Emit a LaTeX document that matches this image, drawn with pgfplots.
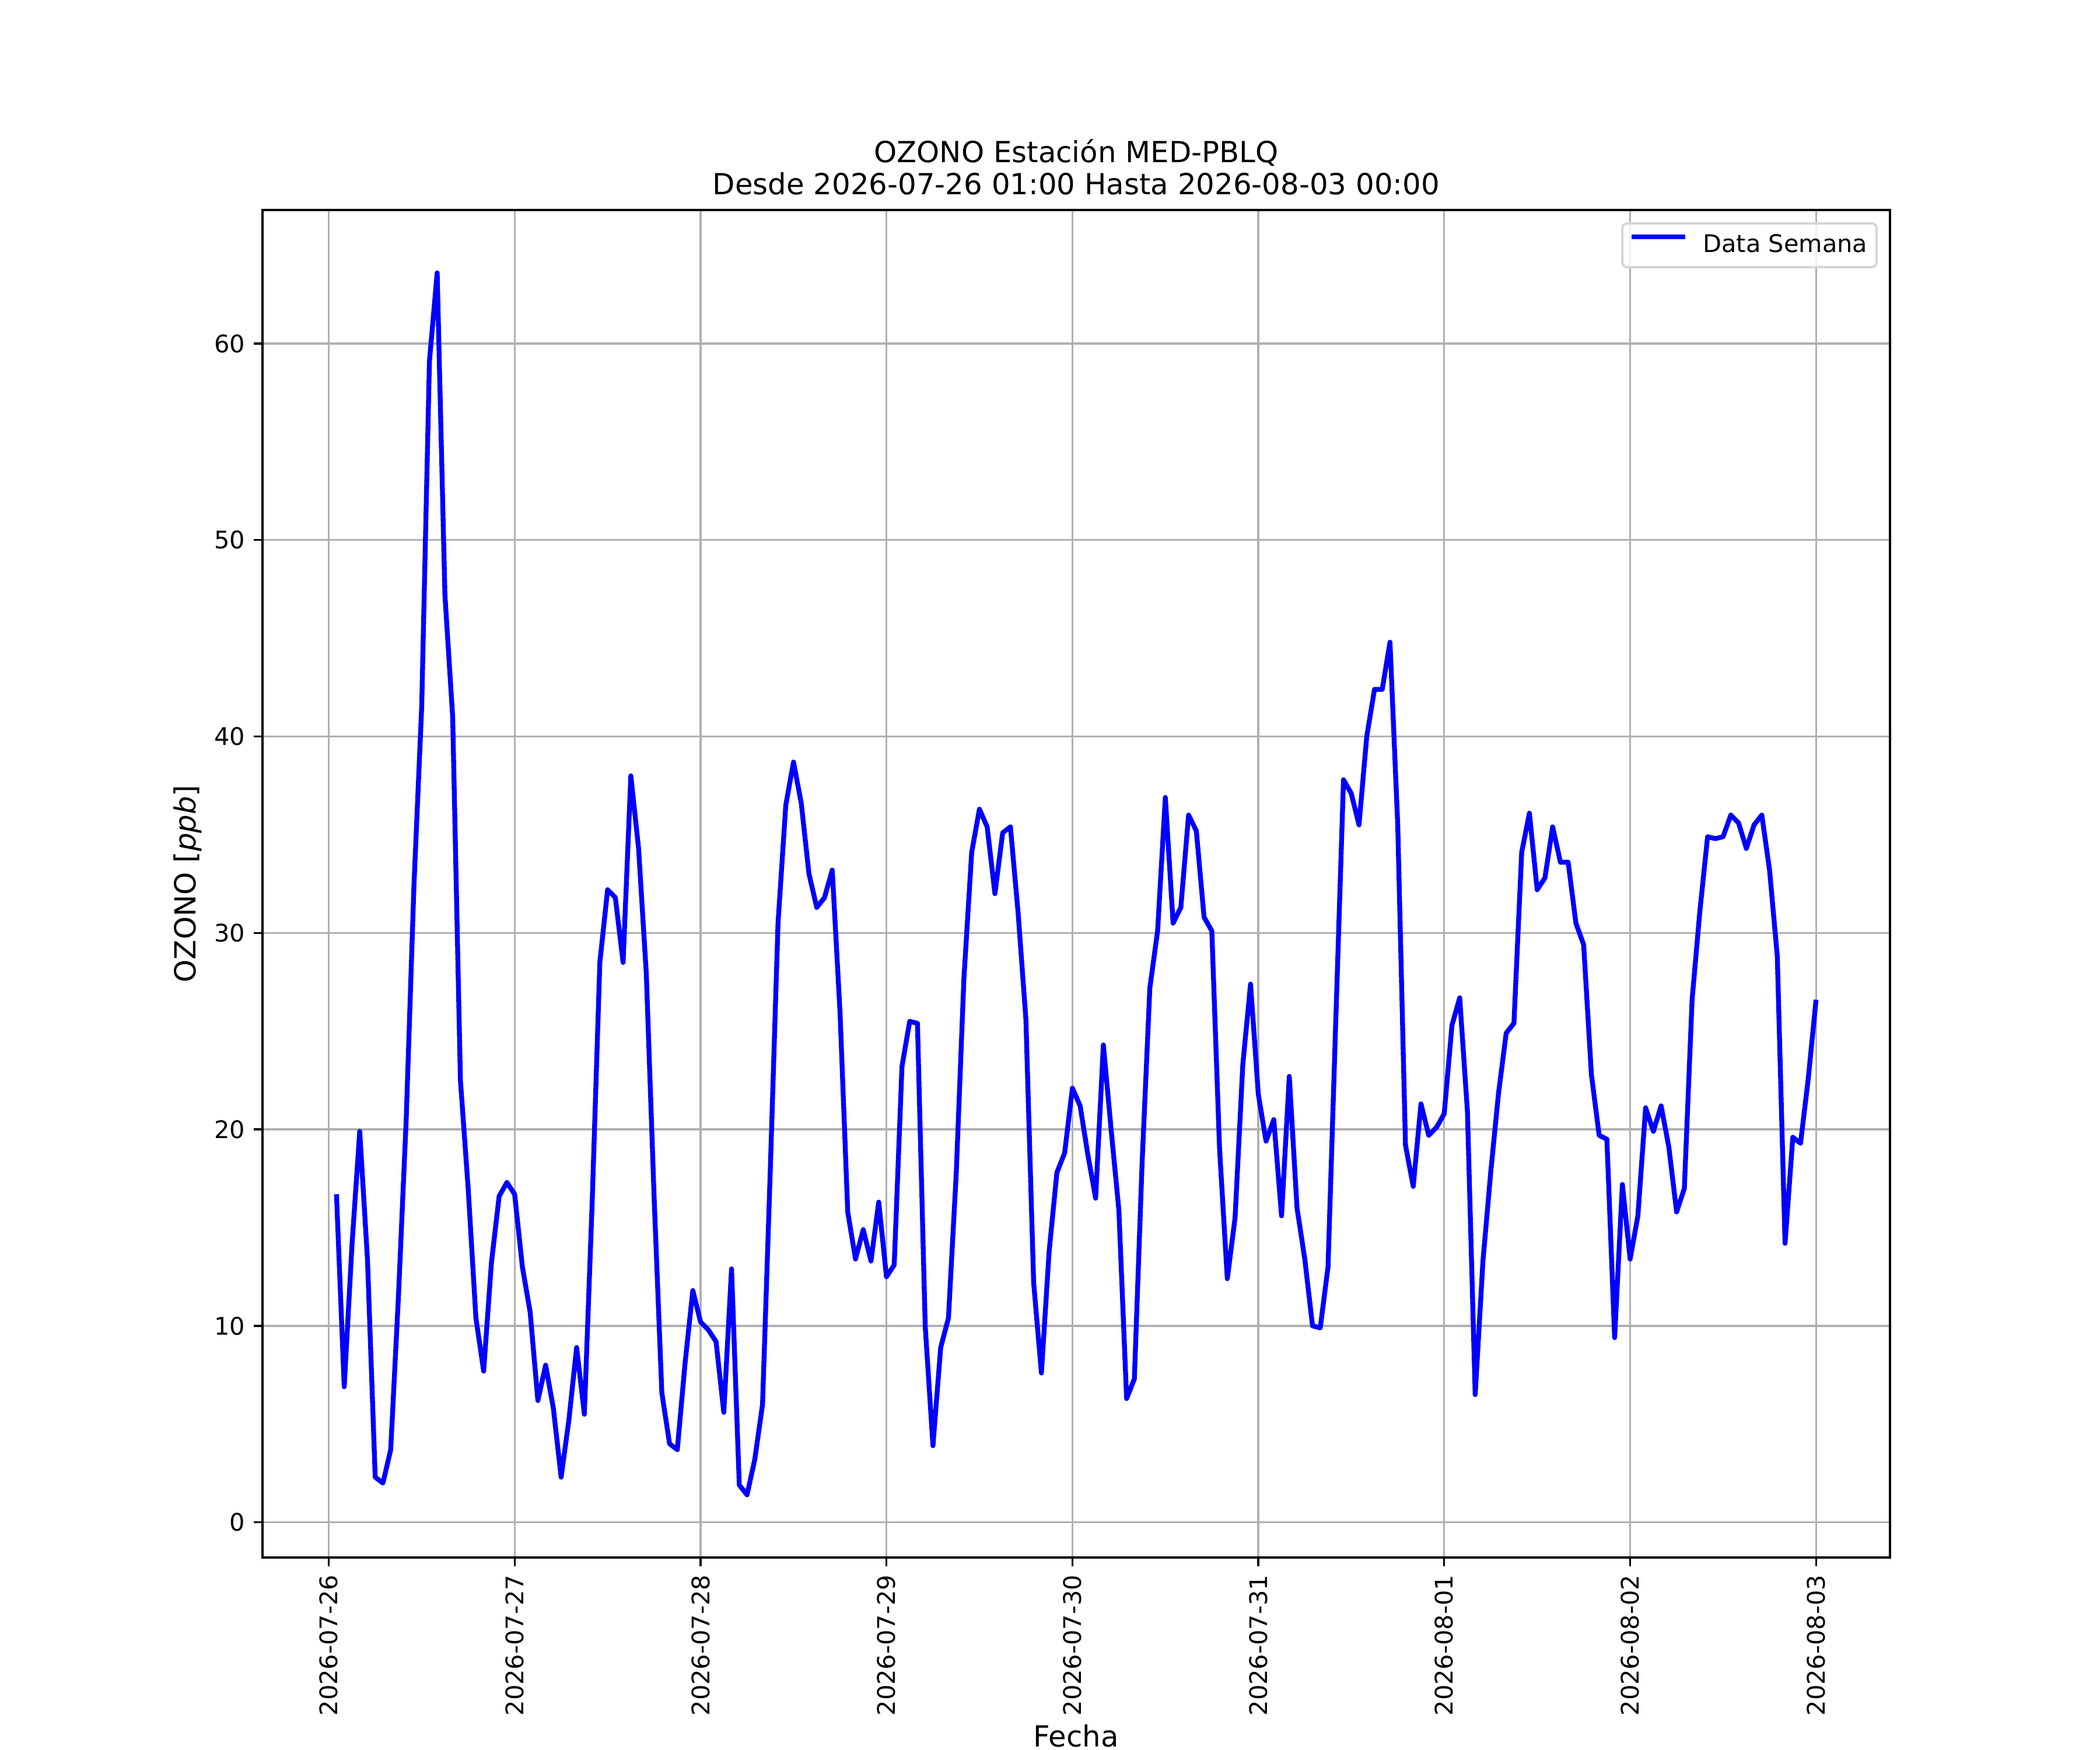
\documentclass[border=0pt]{standalone}
\usepackage{fontspec}
\setmainfont{DejaVu Sans}
\usepackage{pgfplots}
\pgfplotsset{compat=1.18}
\definecolor{gridgray}{HTML}{B0B0B0}
\definecolor{legedge}{HTML}{D6D6D6}
\begin{document}
\begin{tikzpicture}
\path[use as bounding box] (0,0) rectangle (864bp,720bp);
\begin{axis}[
  at={(108bp,79.2bp)}, anchor=south west,
  width=669.6bp, height=554.4bp, scale only axis,
  xmin=-8.55, xmax=201.55, ymin=-1.79, ymax=66.80,
  xtick={0,24,48,72,96,120,144,168,192},
  xticklabels={2026-07-26,2026-07-27,2026-07-28,2026-07-29,2026-07-30,2026-07-31,2026-08-01,2026-08-02,2026-08-03},
  ytick={0,10,20,30,40,50,60},
  /pgf/number format/assume math mode=true,
  grid=major,
  major grid style={gridgray, line width=0.8bp},
  axis line style={line width=0.8bp, black},
  tick style={line width=0.8bp, black},
  major tick length=3.5bp,
  tick align=outside,
  tick pos=left,
  tick label style={font=\fontsize{10}{12}\selectfont},
  xticklabel style={rotate=90, anchor=east, inner sep=0pt},
  yticklabel style={anchor=east, inner sep=0pt},
  xticklabel shift=3.5bp,
  yticklabel shift=3.5bp,
  title={OZONO Estación MED-PBLQ\\Desde 2026-07-26 01:00 Hasta 2026-08-03 00:00},
  title style={at={(axis description cs:0.5,1)}, anchor=south, yshift=0bp, inner sep=0pt, align=center, font=\fontsize{12}{13.2}\selectfont},
  xlabel={Fecha},
  xlabel style={at={(axis description cs:0.5,-0.1405)}, anchor=base, inner sep=0pt, font=\fontsize{12}{14}\selectfont},
  ylabel={OZONO [\textit{ppb}]},
  ylabel style={at={(axis description cs:-0.0369,0.5)}, anchor=south, inner sep=0pt, font=\fontsize{12}{14}\selectfont},
  legend style={at={(axis description cs:1,1)}, anchor=north east, xshift=-5bp, yshift=-5bp,
    draw=legedge, line width=1bp, rounded corners=2bp, fill=white, fill opacity=0.8, draw opacity=1, text opacity=1,
    inner xsep=3.8bp, inner ysep=4.5bp, font=\fontsize{10}{12}\selectfont,
    nodes={inner sep=0pt, text height=7.3bp, text depth=1.7bp},
    /tikz/every odd column/.append style={column sep=7.4bp}},
  legend cell align=left,
  legend image code/.code={\draw[#1, line cap=rect] (0bp,3.4bp) -- (20bp,3.4bp);},
]
\addplot[color=blue, line width=2bp, line join=round] coordinates {
(1,16.7) (2,6.9) (3,14.1) (4,19.9) (5,13.4) (6,2.3) (7,2.0) (8,3.7) (9,11.5) (10,20.5)
(11,32.4) (12,41.5) (13,59.1) (14,63.6) (15,47.2) (16,41.0) (17,22.5) (18,17.0) (19,10.4) (20,7.7)
(21,13.2) (22,16.6) (23,17.3) (24,16.7) (25,13.0) (26,10.7) (27,6.2) (28,8.0) (29,5.8) (30,2.3)
(31,5.2) (32,8.9) (33,5.5) (34,16.2) (35,28.5) (36,32.2) (37,31.8) (38,28.5) (39,38.0) (40,34.3)
(41,27.9) (42,16.6) (43,6.6) (44,4.0) (45,3.7) (46,8.1) (47,11.8) (48,10.2) (49,9.8) (50,9.2)
(51,5.6) (52,12.9) (53,1.9) (54,1.4) (55,3.2) (56,6.0) (57,17.9) (58,30.5) (59,36.5) (60,38.7)
(61,36.6) (62,33.0) (63,31.3) (64,31.8) (65,33.2) (66,26.0) (67,15.8) (68,13.4) (69,14.9) (70,13.3)
(71,16.3) (72,12.5) (73,13.1) (74,23.2) (75,25.5) (76,25.4) (77,10.0) (78,3.9) (79,8.9) (80,10.4)
(81,17.7) (82,27.7) (83,34.1) (84,36.3) (85,35.4) (86,32.0) (87,35.1) (88,35.4) (89,31.0) (90,25.6)
(91,12.2) (92,7.6) (93,13.8) (94,17.8) (95,18.8) (96,22.1) (97,21.2) (98,18.7) (99,16.5) (100,24.3)
(101,20.0) (102,15.9) (103,6.3) (104,7.3) (105,18.3) (106,27.2) (107,30.1) (108,36.9) (109,30.5) (110,31.3)
(111,36.0) (112,35.2) (113,30.8) (114,30.1) (115,19.0) (116,12.4) (117,15.5) (118,23.3) (119,27.4) (120,21.8)
(121,19.4) (122,20.5) (123,15.6) (124,22.7) (125,16.0) (126,13.4) (127,10.0) (128,9.9) (129,13.0) (130,25.5)
(131,37.8) (132,37.1) (133,35.5) (134,40.0) (135,42.4) (136,42.4) (137,44.8) (138,35.5) (139,19.2) (140,17.1)
(141,21.3) (142,19.7) (143,20.1) (144,20.8) (145,25.3) (146,26.7) (147,20.9) (148,6.5) (149,13.3) (150,17.8)
(151,21.8) (152,24.9) (153,25.4) (154,34.1) (155,36.1) (156,32.2) (157,32.8) (158,35.4) (159,33.6) (160,33.6)
(161,30.5) (162,29.4) (163,22.8) (164,19.7) (165,19.5) (166,9.4) (167,17.2) (168,13.4) (169,15.6) (170,21.1)
(171,19.9) (172,21.2) (173,19.1) (174,15.8) (175,17.0) (176,26.6) (177,31.1) (178,34.9) (179,34.8) (180,34.9)
(181,36.0) (182,35.6) (183,34.3) (184,35.5) (185,36.0) (186,33.2) (187,28.8) (188,14.2) (189,19.6) (190,19.3)
(191,22.6) (192,26.6)
};
\addlegendentry{Data Semana}
\end{axis}
\end{tikzpicture}
\end{document}
